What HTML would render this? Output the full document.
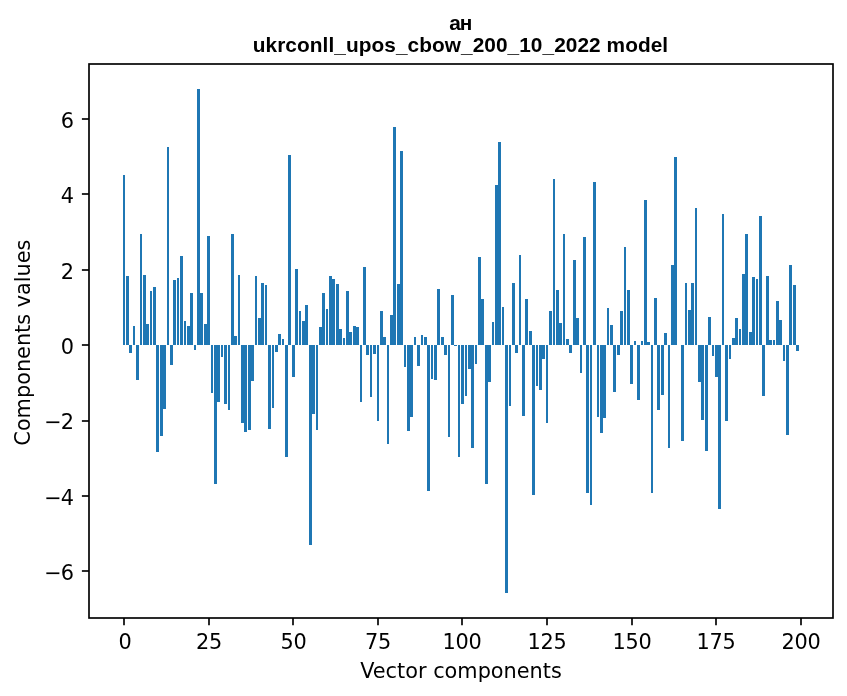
<!DOCTYPE html>
<html lang="uk"><head><meta charset="utf-8"><title>ан — ukrconll_upos_cbow_200_10_2022 model</title>
<style>
html,body{margin:0;padding:0;background:#fff;}
body{width:847px;height:696px;overflow:hidden;}
svg{display:block;}
.t{font-family:"DejaVu Sans","Liberation Sans",sans-serif;font-size:20.83px;fill:#000;}
.ttl{font-family:"Liberation Sans",Arial,Helvetica,sans-serif;font-weight:bold;font-size:20.83px;fill:#000;}
</style></head><body>
<svg width="847" height="696" viewBox="0 0 847 696">
<rect width="847" height="696" fill="#fff"/>
<g fill="#1f77b4" shape-rendering="crispEdges"><rect x="123" y="175" width="2" height="170"/><rect x="126" y="276" width="3" height="69"/><rect x="129" y="345" width="3" height="8"/><rect x="133" y="326" width="2" height="19"/><rect x="136" y="345" width="3" height="35"/><rect x="140" y="234" width="2" height="111"/><rect x="143" y="275" width="3" height="70"/><rect x="146" y="324" width="3" height="21"/><rect x="150" y="291" width="2" height="54"/><rect x="153" y="287" width="3" height="58"/><rect x="156" y="345" width="3" height="107"/><rect x="160" y="345" width="3" height="91"/><rect x="163" y="345" width="3" height="64"/><rect x="167" y="147" width="2" height="198"/><rect x="170" y="345" width="3" height="20"/><rect x="173" y="280" width="3" height="65"/><rect x="177" y="278" width="2" height="67"/><rect x="180" y="256" width="3" height="89"/><rect x="184" y="321" width="2" height="24"/><rect x="187" y="326" width="3" height="19"/><rect x="190" y="293" width="3" height="52"/><rect x="194" y="345" width="2" height="5"/><rect x="197" y="89" width="3" height="256"/><rect x="200" y="293" width="3" height="52"/><rect x="204" y="324" width="3" height="21"/><rect x="207" y="236" width="3" height="109"/><rect x="211" y="345" width="2" height="48"/><rect x="214" y="345" width="3" height="139"/><rect x="217" y="345" width="3" height="57"/><rect x="221" y="345" width="2" height="12"/><rect x="224" y="345" width="3" height="59"/><rect x="228" y="345" width="2" height="65"/><rect x="231" y="234" width="3" height="111"/><rect x="234" y="336" width="3" height="9"/><rect x="238" y="275" width="2" height="70"/><rect x="241" y="345" width="3" height="78"/><rect x="244" y="345" width="3" height="87"/><rect x="248" y="345" width="3" height="85"/><rect x="251" y="345" width="3" height="36"/><rect x="255" y="276" width="2" height="69"/><rect x="258" y="318" width="3" height="27"/><rect x="261" y="283" width="3" height="62"/><rect x="265" y="285" width="2" height="60"/><rect x="268" y="345" width="3" height="84"/><rect x="272" y="345" width="2" height="63"/><rect x="275" y="345" width="3" height="7"/><rect x="278" y="334" width="3" height="11"/><rect x="282" y="339" width="2" height="6"/><rect x="285" y="345" width="3" height="112"/><rect x="288" y="155" width="3" height="190"/><rect x="292" y="345" width="3" height="32"/><rect x="295" y="269" width="3" height="76"/><rect x="299" y="311" width="2" height="34"/><rect x="302" y="321" width="3" height="24"/><rect x="305" y="305" width="3" height="40"/><rect x="309" y="345" width="3" height="200"/><rect x="312" y="345" width="3" height="69"/><rect x="316" y="345" width="2" height="85"/><rect x="319" y="327" width="3" height="18"/><rect x="322" y="293" width="3" height="52"/><rect x="326" y="309" width="2" height="36"/><rect x="329" y="276" width="3" height="69"/><rect x="332" y="279" width="3" height="66"/><rect x="336" y="284" width="3" height="61"/><rect x="339" y="329" width="3" height="16"/><rect x="343" y="338" width="2" height="7"/><rect x="346" y="291" width="3" height="54"/><rect x="349" y="332" width="3" height="13"/><rect x="353" y="326" width="3" height="19"/><rect x="356" y="327" width="3" height="18"/><rect x="360" y="345" width="2" height="57"/><rect x="363" y="267" width="3" height="78"/><rect x="366" y="345" width="3" height="10"/><rect x="370" y="345" width="2" height="52"/><rect x="373" y="345" width="3" height="9"/><rect x="377" y="345" width="2" height="76"/><rect x="380" y="311" width="3" height="34"/><rect x="383" y="337" width="3" height="8"/><rect x="387" y="345" width="2" height="99"/><rect x="390" y="315" width="3" height="30"/><rect x="393" y="127" width="3" height="218"/><rect x="397" y="284" width="3" height="61"/><rect x="400" y="151" width="3" height="194"/><rect x="404" y="345" width="2" height="22"/><rect x="407" y="345" width="3" height="86"/><rect x="410" y="345" width="3" height="72"/><rect x="414" y="337" width="2" height="8"/><rect x="417" y="345" width="3" height="21"/><rect x="421" y="335" width="2" height="10"/><rect x="424" y="337" width="3" height="8"/><rect x="427" y="345" width="3" height="146"/><rect x="431" y="345" width="2" height="34"/><rect x="434" y="345" width="3" height="35"/><rect x="437" y="289" width="3" height="56"/><rect x="441" y="337" width="3" height="8"/><rect x="444" y="345" width="3" height="10"/><rect x="448" y="345" width="2" height="92"/><rect x="451" y="295" width="3" height="50"/><rect x="454" y="345" width="3" height="1"/><rect x="458" y="345" width="2" height="112"/><rect x="461" y="345" width="3" height="59"/><rect x="465" y="345" width="2" height="51"/><rect x="468" y="345" width="3" height="24"/><rect x="471" y="345" width="3" height="103"/><rect x="475" y="345" width="2" height="19"/><rect x="478" y="257" width="3" height="88"/><rect x="481" y="299" width="3" height="46"/><rect x="485" y="345" width="3" height="139"/><rect x="488" y="345" width="3" height="37"/><rect x="492" y="322" width="2" height="23"/><rect x="495" y="185" width="3" height="160"/><rect x="498" y="142" width="3" height="203"/><rect x="502" y="307" width="2" height="38"/><rect x="505" y="345" width="3" height="248"/><rect x="509" y="345" width="2" height="61"/><rect x="512" y="283" width="3" height="62"/><rect x="515" y="345" width="3" height="8"/><rect x="519" y="255" width="2" height="90"/><rect x="522" y="345" width="3" height="71"/><rect x="525" y="299" width="3" height="46"/><rect x="529" y="331" width="3" height="14"/><rect x="532" y="345" width="3" height="150"/><rect x="536" y="345" width="2" height="41"/><rect x="539" y="345" width="3" height="45"/><rect x="542" y="345" width="3" height="14"/><rect x="546" y="345" width="2" height="78"/><rect x="549" y="311" width="3" height="34"/><rect x="553" y="179" width="2" height="166"/><rect x="556" y="290" width="3" height="55"/><rect x="559" y="323" width="3" height="22"/><rect x="563" y="234" width="2" height="111"/><rect x="566" y="339" width="3" height="6"/><rect x="569" y="345" width="3" height="8"/><rect x="573" y="260" width="3" height="85"/><rect x="576" y="318" width="3" height="27"/><rect x="580" y="345" width="2" height="28"/><rect x="583" y="237" width="3" height="108"/><rect x="586" y="345" width="3" height="148"/><rect x="590" y="345" width="2" height="160"/><rect x="593" y="182" width="3" height="163"/><rect x="597" y="345" width="2" height="72"/><rect x="600" y="345" width="3" height="88"/><rect x="603" y="345" width="3" height="73"/><rect x="607" y="308" width="2" height="37"/><rect x="610" y="325" width="3" height="20"/><rect x="613" y="345" width="3" height="47"/><rect x="617" y="345" width="3" height="10"/><rect x="620" y="311" width="3" height="34"/><rect x="624" y="247" width="2" height="98"/><rect x="627" y="290" width="3" height="55"/><rect x="630" y="345" width="3" height="39"/><rect x="634" y="341" width="2" height="4"/><rect x="637" y="345" width="3" height="55"/><rect x="641" y="341" width="2" height="4"/><rect x="644" y="200" width="3" height="145"/><rect x="647" y="342" width="3" height="3"/><rect x="651" y="345" width="2" height="148"/><rect x="654" y="298" width="3" height="47"/><rect x="657" y="345" width="3" height="65"/><rect x="661" y="345" width="3" height="50"/><rect x="664" y="333" width="3" height="12"/><rect x="668" y="345" width="2" height="103"/><rect x="671" y="265" width="3" height="80"/><rect x="674" y="157" width="3" height="188"/><rect x="681" y="345" width="3" height="96"/><rect x="685" y="283" width="2" height="62"/><rect x="688" y="310" width="3" height="35"/><rect x="691" y="283" width="3" height="62"/><rect x="695" y="208" width="2" height="137"/><rect x="698" y="345" width="3" height="37"/><rect x="701" y="345" width="3" height="75"/><rect x="705" y="345" width="3" height="106"/><rect x="708" y="317" width="3" height="28"/><rect x="712" y="345" width="2" height="11"/><rect x="715" y="345" width="3" height="32"/><rect x="718" y="345" width="3" height="164"/><rect x="722" y="214" width="2" height="131"/><rect x="725" y="345" width="3" height="76"/><rect x="729" y="345" width="2" height="14"/><rect x="732" y="338" width="3" height="7"/><rect x="735" y="318" width="3" height="27"/><rect x="739" y="329" width="2" height="16"/><rect x="742" y="274" width="3" height="71"/><rect x="745" y="234" width="3" height="111"/><rect x="749" y="332" width="3" height="13"/><rect x="752" y="277" width="3" height="68"/><rect x="756" y="279" width="2" height="66"/><rect x="759" y="216" width="3" height="129"/><rect x="762" y="345" width="3" height="51"/><rect x="766" y="276" width="3" height="69"/><rect x="769" y="340" width="3" height="5"/><rect x="773" y="340" width="2" height="5"/><rect x="776" y="301" width="3" height="44"/><rect x="779" y="320" width="3" height="25"/><rect x="783" y="345" width="2" height="16"/><rect x="786" y="345" width="3" height="90"/><rect x="789" y="265" width="3" height="80"/><rect x="793" y="285" width="3" height="60"/><rect x="796" y="345" width="3" height="6"/></g>
<g stroke="#000" stroke-width="1.67" fill="none"><path d="M124 618V625.3"/><path d="M209 618V625.3"/><path d="M293 618V625.3"/><path d="M378 618V625.3"/><path d="M462 618V625.3"/><path d="M547 618V625.3"/><path d="M632 618V625.3"/><path d="M716 618V625.3"/><path d="M801 618V625.3"/><path d="M89 119H81.9"/><path d="M89 194H81.9"/><path d="M89 270H81.9"/><path d="M89 345H81.9"/><path d="M89 421H81.9"/><path d="M89 496H81.9"/><path d="M89 571H81.9"/></g>
<rect x="89" y="64" width="744" height="554" fill="none" stroke="#000" stroke-width="1.67" stroke-linejoin="miter"/>
<g class="t"><text x="124.9" y="649.0" text-anchor="middle" letter-spacing="-0.25">0</text><text x="209" y="649.0" text-anchor="middle" letter-spacing="-0.25">25</text><text x="293.6" y="649.0" text-anchor="middle" letter-spacing="-0.25">50</text><text x="378" y="649.0" text-anchor="middle" letter-spacing="-0.25">75</text><text x="462" y="649.0" text-anchor="middle" letter-spacing="-0.25">100</text><text x="547" y="649.0" text-anchor="middle" letter-spacing="-0.25">125</text><text x="632" y="649.0" text-anchor="middle" letter-spacing="-0.25">150</text><text x="716" y="649.0" text-anchor="middle" letter-spacing="-0.25">175</text><text x="801" y="649.0" text-anchor="middle" letter-spacing="-0.25">200</text><text x="74.0" y="128.0" text-anchor="end">6</text><text x="74.0" y="203.0" text-anchor="end">4</text><text x="74.0" y="279.0" text-anchor="end">2</text><text x="74.0" y="354.0" text-anchor="end">0</text><text x="73.1" y="429.0" text-anchor="end" letter-spacing="-0.9">−2</text><text x="73.1" y="505.0" text-anchor="end" letter-spacing="-0.9">−4</text><text x="73.1" y="580.0" text-anchor="end" letter-spacing="-0.9">−6</text>
<text x="461" y="678.3" text-anchor="middle">Vector components</text>
<text transform="translate(29.5,342.6) rotate(-90)" text-anchor="middle">Components values</text>
</g>
<g class="ttl">
<text x="460.2" y="30.2" text-anchor="middle" letter-spacing="-1.1">ан</text>
<text x="460.45" y="51.8" text-anchor="middle" textLength="415.4" lengthAdjust="spacing">ukrconll_upos_cbow_200_10_2022 model</text>
</g>
</svg>
</body></html>
